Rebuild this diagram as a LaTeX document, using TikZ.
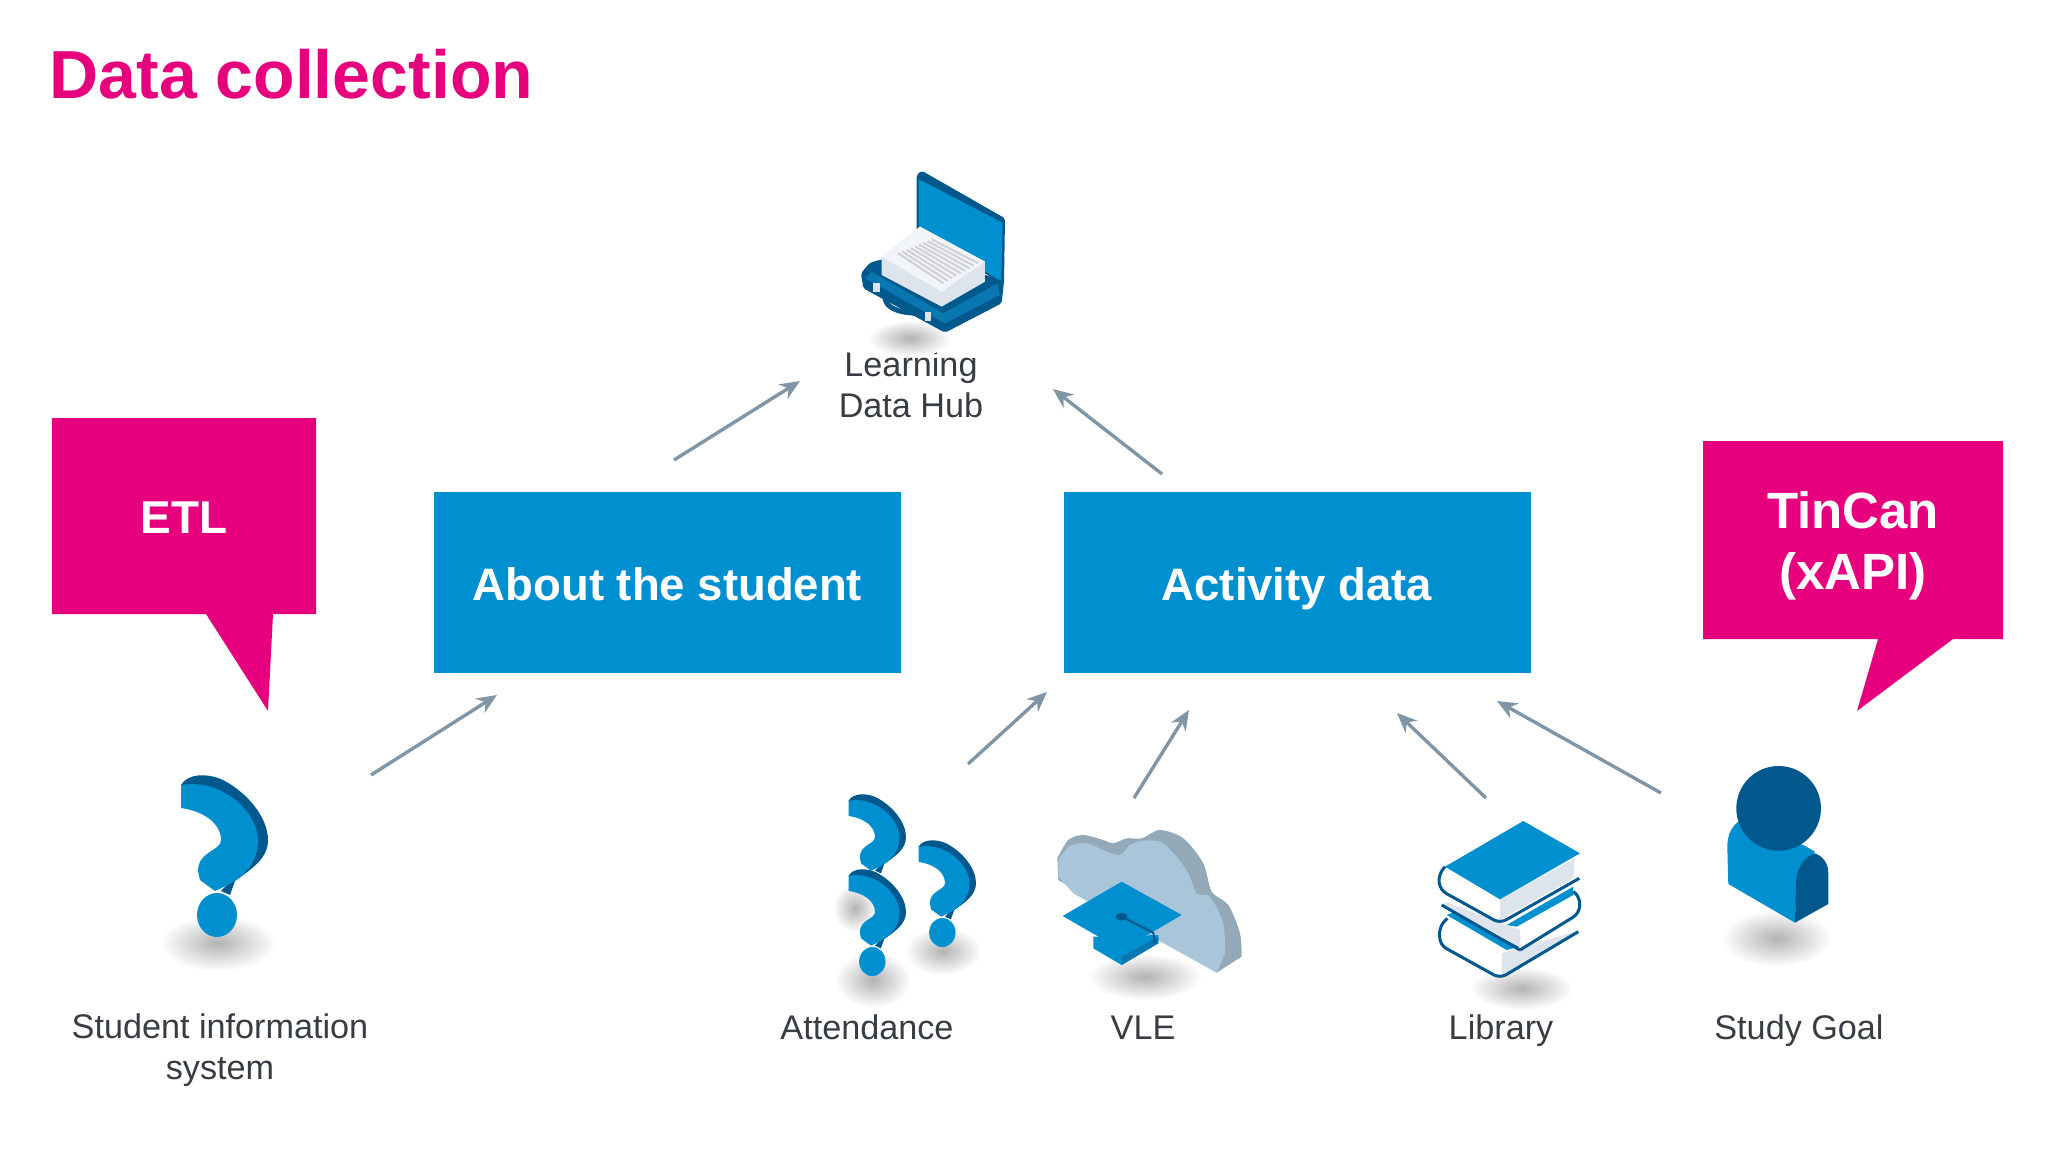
\documentclass[tikz,border=0pt]{standalone}
\usepackage{fontspec}
\setmainfont{Liberation Sans}
\usepackage{tikz}
\usetikzlibrary{positioning,calc}
\usetikzlibrary{arrows.meta}
\definecolor{hotpink}{HTML}{E6007E}
\definecolor{boxblue}{HTML}{0090CF}
\definecolor{deepblue}{HTML}{00588C}
\definecolor{midblue}{HTML}{0A78B0}
\definecolor{cloudfront}{HTML}{A9C5DA}
\definecolor{cloudside}{HTML}{94A9B8}
\definecolor{arrowgrey}{HTML}{8096A6}
\definecolor{labelgrey}{HTML}{383D44}
\definecolor{pagegrey}{HTML}{DDE4EE}
\tikzstyle{title} = [anchor=base west, text=hotpink, font=\bfseries\fontsize{68}{70}\selectfont]
\tikzstyle{bluebox} = [minimum width=467pt, minimum height=181pt, inner sep=0pt, text height=36pt, text depth=0pt, fill=boxblue, text=white, font=\bfseries\fontsize{45.5}{50}\selectfont]
\tikzstyle{talk} = [align=center, text=white, font=\bfseries\fontsize{46}{61}\selectfont]
\tikzstyle{lbl} = [align=center, text=labelgrey, font=\fontsize{34.2}{41}\selectfont]
\tikzstyle{arrow} = [line width=3.4pt,arrowgrey,-{Stealth[length=20pt,width=17pt]}]
\tikzstyle{shadow} = [inner color=black!30, outer color=white]
\tikzset{
  qmark/.pic={
    \fill[deepblue] (-37,-158) .. controls (-30,-170) and (-10,-170) .. (5,-163) .. controls (30,-150) and (50,-125) .. (50,-103) .. controls (50,-85) and (35,-75) .. (17,-62) -- (12,-48) -- (3,-52) -- (30,-80) -- (30,-120) -- (5,-145) -- cycle;
    \fill[boxblue] (-37,-158) -- (-37,-135) .. controls (-15,-132) and (3,-120) .. (3,-103) .. controls (3,-92) and (-20,-92) .. (-20,-72) -- (-18,-63) -- (-3,-52) .. controls (15,-60) and (40,-72) .. (40,-103) .. controls (40,-130) and (5,-165) .. (-37,-158) -- cycle;
  },
  qdot/.pic={
    \fill[boxblue] (-1,-28) ellipse (20pt and 22pt);
  }
}
\begin{document}
\begin{tikzpicture}[x=1pt,y=-1pt]
\useasboundingbox (0,0) rectangle (2048,1152);

\node[title] (head) at (46,98) {Data collection};

% callouts
\fill[hotpink] (52,418) -- (316,418) -- (316,614) -- (273,614) -- (268,711) -- (206,614) -- (52,614) -- cycle;
\node[talk] (etl) at (184,518) {ETL};
\fill[hotpink] (1703,441) -- (2003,441) -- (2003,639) -- (1953,639) -- (1857,711) -- (1878,639) -- (1703,639) -- cycle;
\node[talk,font=\bfseries\fontsize{51}{61}\selectfont] (tincan) at (1853,546) {TinCan\\(xAPI)};

\node[bluebox] (about) at (667.5,582) {About the student};
\node[bluebox] (activity) at (1297,582) {Activity data};

\node[lbl] (hub) at (911,385) {Learning\\Data Hub};
\node[lbl] (sis) at (220,1050.5) {Student information\\system};
\node[lbl,anchor=base] (att) at (867,1039) {Attendance};
\node[lbl,anchor=base] (vle) at (1143,1039) {VLE};
\node[lbl,anchor=base] (lib) at (1501,1039) {Library};
\node[lbl,anchor=base] (goal) at (1799,1039) {Study Goal};

% arrow ends
\coordinate (a1) at (674,460); \coordinate (b1) at (800,381);
\coordinate (a2) at (1162,474); \coordinate (b2) at (1053,389);
\coordinate (a3) at (371,775); \coordinate (b3) at (497,695);
\coordinate (a4) at (968,764); \coordinate (b4) at (1047,692);
\coordinate (a5) at (1134,798); \coordinate (b5) at (1189,710);
\coordinate (a6) at (1486,798); \coordinate (b6) at (1397,713);
\coordinate (a7) at (1661,793); \coordinate (b7) at (1497,701);
\foreach \i in {1,...,7}
  \draw[arrow] (a\i) -- (b\i);

% single question mark
\shade[shadow] (218,943) ellipse (58pt and 28pt);
\pic at (218,943) {qmark};
\pic at (218,943) {qdot};

% three question marks
\shade[shadow] (855,908) ellipse (22pt and 24pt);
\shade[shadow] (873,980) ellipse (38pt and 28pt);
\shade[shadow] (943,951) ellipse (38pt and 24pt);
\pic[scale=.66] at (873,905) {qmark};
\pic[scale=.66] at (873,980) {qmark};
\pic[scale=.66] at (873,980) {qdot};
\pic[scale=.66] at (943,951) {qmark};
\pic[scale=.66] at (943,951) {qdot};

% briefcase
\begin{scope}[shift={(800,150)},scale=.3333]
\shade[shadow] (330,565) ellipse (125pt and 55pt);
\fill[deepblue,rounded corners=2pt] (350,75) -- (365,62) -- (615,205) -- (612,405) -- (350,245) -- cycle;
\fill[boxblue] (357,88) -- (607,218) -- (604,395) -- (357,235) -- cycle;
\fill[deepblue,rounded corners=2pt] (183,370) -- (210,338) -- (350,300) -- (612,395) -- (605,460) -- (435,548) -- (190,415) -- cycle;
\fill[midblue] (195,385) -- (435,520) -- (600,435) -- (592,400) -- (430,490) -- (215,365) -- cycle;
\draw[deepblue,line width=5pt] (255,440) .. controls (255,480) and (310,490) .. (365,490);
\fill[pagegrey] (220,398) rectangle (240,425);
\fill[pagegrey] (376,485) rectangle (392,512);
\fill[pagegrey] (245,320) -- (360,230) -- (555,335) -- (555,395) -- (425,470) -- (245,375) -- cycle;
\fill[white!60!pagegrey] (245,320) -- (360,230) -- (555,335) -- (425,425) -- cycle;
\foreach \t in {0,...,8}
  \draw[black!18,line width=2pt] ($(295,310)!\t/8!(395,268)$) -- ($(430,400)!\t/8!(535,340)$);
\end{scope}

% cloud and cap
\begin{scope}[shift={(820,780)},scale=.3333]
\shade[shadow] (975,590) ellipse (170pt and 70pt);
\fill[cloudside] plot[smooth,tension=.5] coordinates {(712,235) (745,180) (790,165) (850,180) (880,190) (920,175) (965,175) (1020,150) (1090,175) (1150,250) (1175,335) (1225,375) (1260,460) (1265,530)} -- (1190,578) -- (715,300) -- cycle;
\fill[cloudfront] plot[smooth,tension=.5] coordinates {(715,240) (750,197) (800,190) (850,210) (900,225) (930,195) (970,182) (1030,190) (1100,270) (1130,340) (1170,350) (1210,430) (1215,520)} -- (1190,578) -- (760,340) -- (715,290) -- cycle;
\fill[boxblue] (820,470) -- (1015,465) -- (1015,490) -- (905,555) -- (820,505) -- cycle;
\fill[midblue] (905,530) -- (1015,470) -- (1015,490) -- (905,555) -- cycle;
\fill[boxblue] (728,408) -- (905,305) -- (1085,405) -- (905,510) -- cycle;
\draw[deepblue,line width=2pt] (905,410) -- (1000,458) -- (1005,490);
\fill[deepblue] (905,410) ellipse (18pt and 11pt);
\end{scope}

% books
\begin{scope}[shift={(1410,750)},scale=.3333]
\shade[shadow] (335,715) ellipse (155pt and 65pt);
\fill[pagegrey] (275,610) -- (495,545) -- (275,680) -- cycle;
\fill[white] (100,515) -- (275,610) -- (275,680) -- (100,580) -- cycle;
\fill[boxblue] (110,495) -- (290,600) -- (330,590) -- (150,480) -- cycle;
\draw[deepblue,line width=3pt,rounded corners=7pt] (112,505) -- (88,530) -- (90,585) -- (270,685) -- (505,545);
\fill[white] (320,530) -- (490,435) -- (505,490) -- (330,592) -- cycle;
\fill[pagegrey] (105,455) -- (330,540) -- (330,592) -- (100,470) -- cycle;
\fill[boxblue] (290,525) -- (490,410) -- (490,435) -- (320,530) -- cycle;
\draw[deepblue,line width=3pt] (95,465) -- (330,600);
\draw[deepblue,line width=3pt,rounded corners=7pt] (330,600) -- (508,490) -- (510,440) -- (490,425);
\fill[pagegrey] (270,448) -- (495,325) -- (490,385) -- (270,510) -- cycle;
\fill[white] (105,355) -- (270,448) -- (270,510) -- (110,420) -- cycle;
\draw[deepblue,line width=3pt,rounded corners=7pt] (105,350) -- (85,375) -- (90,420) -- (270,520) -- (508,385);
\fill[boxblue] (105,350) -- (340,213) -- (510,310) -- (270,448) -- cycle;
\end{scope}

% person
\begin{scope}[shift={(1410,750)},scale=.3333]
\shade[shadow] (1100,565) ellipse (165pt and 85pt);
\fill[boxblue] (955,402) -- (952,290) .. controls (952,255) and (965,230) .. (985,215) -- (1180,285) -- (1215,305) -- (1160,400) -- (1155,518) -- cycle;
\fill[deepblue] (1155,518) -- (1158,400) .. controls (1160,350) and (1185,320) .. (1215,310) .. controls (1240,320) and (1255,340) .. (1255,370) -- (1255,462) -- cycle;
\fill[deepblue] (1106,175) circle (127pt);
\end{scope}
\end{tikzpicture}
\end{document}
